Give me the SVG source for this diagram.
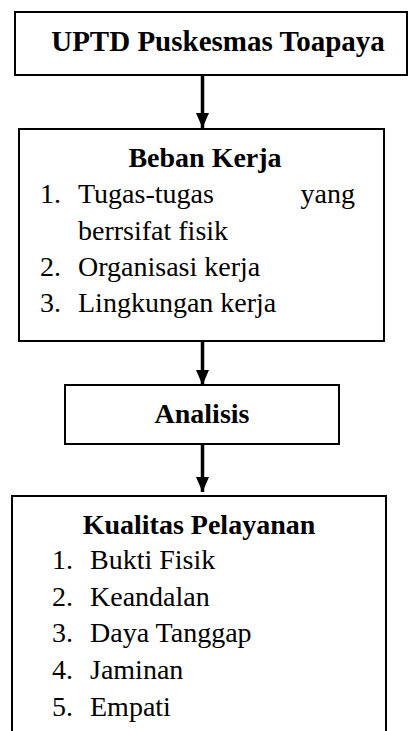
<svg xmlns="http://www.w3.org/2000/svg" width="409" height="731" viewBox="0 0 409 731">
<defs>
<marker id="ah" viewBox="0 0 15 13" refX="15" refY="6.5" markerWidth="15" markerHeight="13" markerUnits="userSpaceOnUse" orient="auto"><path d="M0,0 L15,6.5 L0,13 Z" fill="#000"/></marker>
</defs>
<rect width="409" height="731" fill="#fff"/>
<g id="uptd">
<rect x="15" y="12" width="392" height="63" fill="#fff" stroke="#000" stroke-width="2"/>
<text x="218" y="51" font-family="Liberation Serif" font-size="29" font-weight="bold" text-anchor="middle">UPTD Puskesmas Toapaya</text>
</g>
<g id="beban-kerja">
<rect x="19" y="129" width="365" height="212" fill="#fff" stroke="#000" stroke-width="2"/>
<text x="205" y="167" font-family="Liberation Serif" font-size="28" font-weight="bold" text-anchor="middle">Beban Kerja</text>
<text x="40" y="203" font-family="Liberation Serif" font-size="28">1.</text>
<text x="78" y="203" font-family="Liberation Serif" font-size="28">Tugas-tugas</text>
<text x="355" y="203" font-family="Liberation Serif" font-size="28" text-anchor="end">yang</text>
<text x="78" y="240" font-family="Liberation Serif" font-size="28">berrsifat fisik</text>
<text x="40" y="276" font-family="Liberation Serif" font-size="28">2.</text>
<text x="78" y="276" font-family="Liberation Serif" font-size="28">Organisasi kerja</text>
<text x="40" y="312" font-family="Liberation Serif" font-size="28">3.</text>
<text x="78" y="312" font-family="Liberation Serif" font-size="28">Lingkungan kerja</text>
</g>
<g id="analisis">
<rect x="65" y="385" width="274" height="59" fill="#fff" stroke="#000" stroke-width="2"/>
<text x="202" y="423" font-family="Liberation Serif" font-size="28" font-weight="bold" text-anchor="middle">Analisis</text>
</g>
<g id="kualitas-pelayanan">
<path d="M12,740 V496 H386 V740" fill="#fff" stroke="#000" stroke-width="2"/>
<text x="199" y="534" font-family="Liberation Serif" font-size="28" font-weight="bold" text-anchor="middle">Kualitas Pelayanan</text>
<text x="52" y="569" font-family="Liberation Serif" font-size="28">1.</text>
<text x="90" y="569" font-family="Liberation Serif" font-size="28">Bukti Fisik</text>
<text x="52" y="606" font-family="Liberation Serif" font-size="28">2.</text>
<text x="90" y="606" font-family="Liberation Serif" font-size="28">Keandalan</text>
<text x="52" y="642" font-family="Liberation Serif" font-size="28">3.</text>
<text x="90" y="642" font-family="Liberation Serif" font-size="28">Daya Tanggap</text>
<text x="52" y="679" font-family="Liberation Serif" font-size="28">4.</text>
<text x="90" y="679" font-family="Liberation Serif" font-size="28">Jaminan</text>
<text x="52" y="716" font-family="Liberation Serif" font-size="28">5.</text>
<text x="90" y="716" font-family="Liberation Serif" font-size="28">Empati</text>
</g>
<g id="connectors" stroke="#000" stroke-width="3.5" fill="none">
<line x1="202.5" y1="75" x2="202.5" y2="128" marker-end="url(#ah)"/>
<line x1="202.5" y1="341" x2="202.5" y2="385" marker-end="url(#ah)"/>
<line x1="202.5" y1="444" x2="202.5" y2="492" marker-end="url(#ah)"/>
</g>
</svg>
